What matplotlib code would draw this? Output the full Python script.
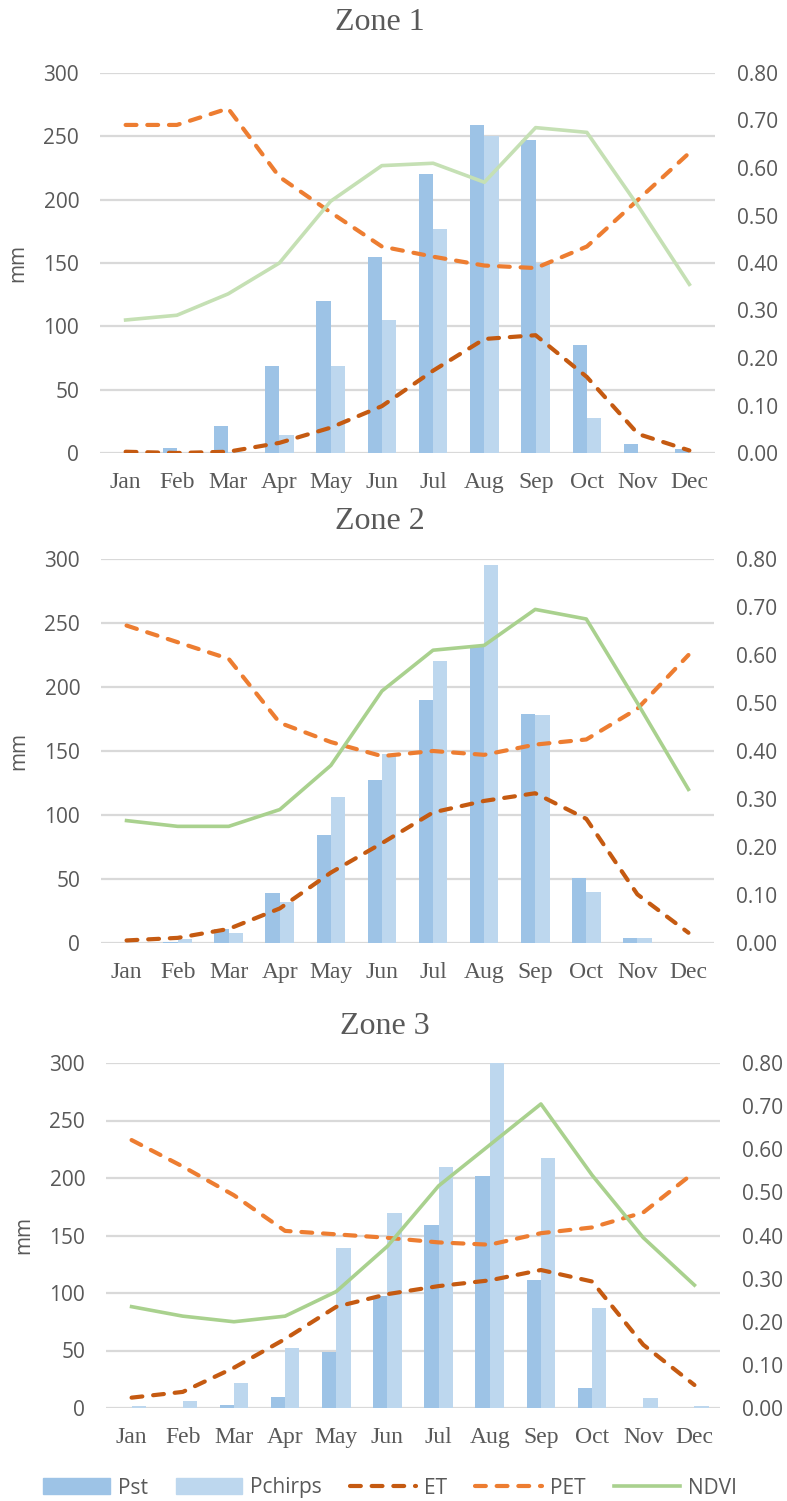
import numpy as np
import matplotlib
matplotlib.use("Agg")
import matplotlib.pyplot as plt
from matplotlib.patches import Patch
from matplotlib.lines import Line2D

months = ["Jan", "Feb", "Mar", "Apr", "May", "Jun", "Jul", "Aug", "Sep", "Oct", "Nov", "Dec"]
zones = ["Zone 1", "Zone 2", "Zone 3"]

# rainfall (mm)
pst_z1 = [0, 4, 21, 69, 120, 155, 220, 259, 247, 85, 7, 3]
pchirps_z1 = [0, 0, 1, 14, 69, 105, 177, 250, 150, 28, 0, 0]
pst_z2 = [0, 1, 11, 39, 84, 127, 190, 231, 179, 51, 4, 0]
pchirps_z2 = [0, 3, 8, 32, 114, 148, 220, 295, 178, 40, 4, 0]
pst_z3 = [0, 0, 3, 10, 49, 97, 159, 202, 111, 17, 0, 0]
pchirps_z3 = [2, 6, 22, 52, 139, 170, 210, 300, 217, 87, 9, 2]

# evapotranspiration (mm)
et_z1 = [1, 0, 1, 8, 20, 37, 65, 90, 93, 60, 15, 2]
pet_z1 = [259, 259, 272, 218, 190, 163, 155, 148, 146, 163, 200, 237]
et_z2 = [2, 4, 11, 27, 55, 78, 102, 111, 117, 97, 38, 8]
pet_z2 = [248, 235, 222, 172, 157, 146, 150, 147, 155, 159, 183, 225]
et_z3 = [9, 14, 35, 60, 88, 99, 106, 111, 120, 110, 55, 20]
pet_z3 = [233, 210, 185, 154, 151, 148, 144, 142, 152, 157, 170, 205]

# NDVI (right axis)
ndvi_z1 = [0.28, 0.29, 0.335, 0.40, 0.53, 0.605, 0.61, 0.57, 0.685, 0.675, 0.52, 0.355]
ndvi_z2 = [0.255, 0.243, 0.243, 0.278, 0.37, 0.525, 0.61, 0.62, 0.695, 0.675, 0.50, 0.32]
ndvi_z3 = [0.235, 0.213, 0.20, 0.213, 0.27, 0.375, 0.515, 0.61, 0.705, 0.54, 0.395, 0.285]

pst = [pst_z1, pst_z2, pst_z3]
pchirps = [pchirps_z1, pchirps_z2, pchirps_z3]
et = [et_z1, et_z2, et_z3]
pet = [pet_z1, pet_z2, pet_z3]
ndvi = [ndvi_z1, ndvi_z2, ndvi_z3]

c_pst = "#9dc3e6"
c_pch = "#bdd7ee"
c_et = "#c55a11"
c_pet = "#ed7d31"
c_ndvi = ["#c5e0b4", "#a9d18e", "#a9d18e"]
c_text = "#595959"
c_grid = "#d9d9d9"
serif = "Liberation Serif"
sans = "Open Sans"

W, H = 787, 1501
fig = plt.figure(figsize=(W / 100, H / 100), dpi=100)

# axes boxes in pixels: left, right, top(300), bottom(0)
boxes = [(100, 715, 73, 453), (101, 714, 559, 943), (106, 720, 1063, 1408)]
titles_xy = [(380, 22), (380, 522), (385, 1026)]

x = np.arange(12)
bw = 0.28
dash = (0, (2.6, 2.6))

for i in range(3):
    l, r, t, b = boxes[i]
    ax = fig.add_axes([l / W, 1 - b / H, (r - l) / W, (b - t) / H])
    ax.bar(x - bw / 2, pst[i], width=bw, color=c_pst, zorder=2)
    ax.bar(x + bw / 2, pchirps[i], width=bw, color=c_pch, zorder=2)
    ax.plot(x, et[i], color=c_et, lw=3, ls=dash, dash_capstyle="round", zorder=3)
    ax.plot(x, pet[i], color=c_pet, lw=3, ls=dash, dash_capstyle="round", zorder=3)
    ax.set_xlim(-0.5, 11.5)
    ax.set_ylim(0, 300)
    ax.set_yticks(np.arange(0, 301, 50))
    ax.yaxis.grid(True, color=c_grid, lw=1.6, zorder=0)
    ax.set_axisbelow(True)
    ax.set_xticks(x)
    ax.set_xticklabels(months, fontfamily=serif, fontsize=17)
    ax.tick_params(axis="x", length=0, labelcolor=c_text, pad=14)
    ax.tick_params(axis="y", length=0, labelcolor=c_text, labelsize=15, pad=15)
    for lab in ax.get_yticklabels():
        lab.set_fontfamily(sans)
    for s in ax.spines.values():
        s.set_visible(False)
    ax.set_ylabel("mm", fontsize=15, color=c_text, family=sans, labelpad=11)

    ax2 = ax.twinx()
    ax2.plot(x, ndvi[i], color=c_ndvi[i], lw=2.6, zorder=4)
    ax2.set_ylim(0, 0.8)
    ax2.set_yticks(np.arange(0, 0.81, 0.1))
    ax2.set_yticklabels([f"{v:.2f}" for v in np.arange(0, 0.81, 0.1)])
    ax2.tick_params(length=0, labelsize=15, labelcolor=c_text, pad=16)
    for lab in ax2.get_yticklabels():
        lab.set_fontfamily(sans)
    for s in ax2.spines.values():
        s.set_visible(False)

    tx, ty = titles_xy[i]
    fig.text(tx / W, 1 - ty / H, zones[i], ha="center", va="center",
             fontsize=23, color=c_text, family=serif)

handles = [
    Patch(color=c_pst, label="Pst"),
    Patch(color=c_pch, label="Pchirps"),
    Line2D([], [], color=c_et, lw=3, ls=dash, dash_capstyle="round", label="ET"),
    Line2D([], [], color=c_pet, lw=3, ls=dash, dash_capstyle="round", label="PET"),
    Line2D([], [], color=c_ndvi[1], lw=2.6, label="NDVI"),
]
leg = fig.legend(handles=handles, loc="center left", bbox_to_anchor=(43 / W, 1 - 1488 / H), ncol=5,
                 frameon=False, handlelength=3.2, handleheight=0.8, columnspacing=1.34,
                 handletextpad=0.38, borderpad=0, borderaxespad=0,
                 prop={"family": sans, "size": 15})
for txt in leg.get_texts():
    txt.set_color(c_text)

fig.savefig("out.png", dpi=100)
